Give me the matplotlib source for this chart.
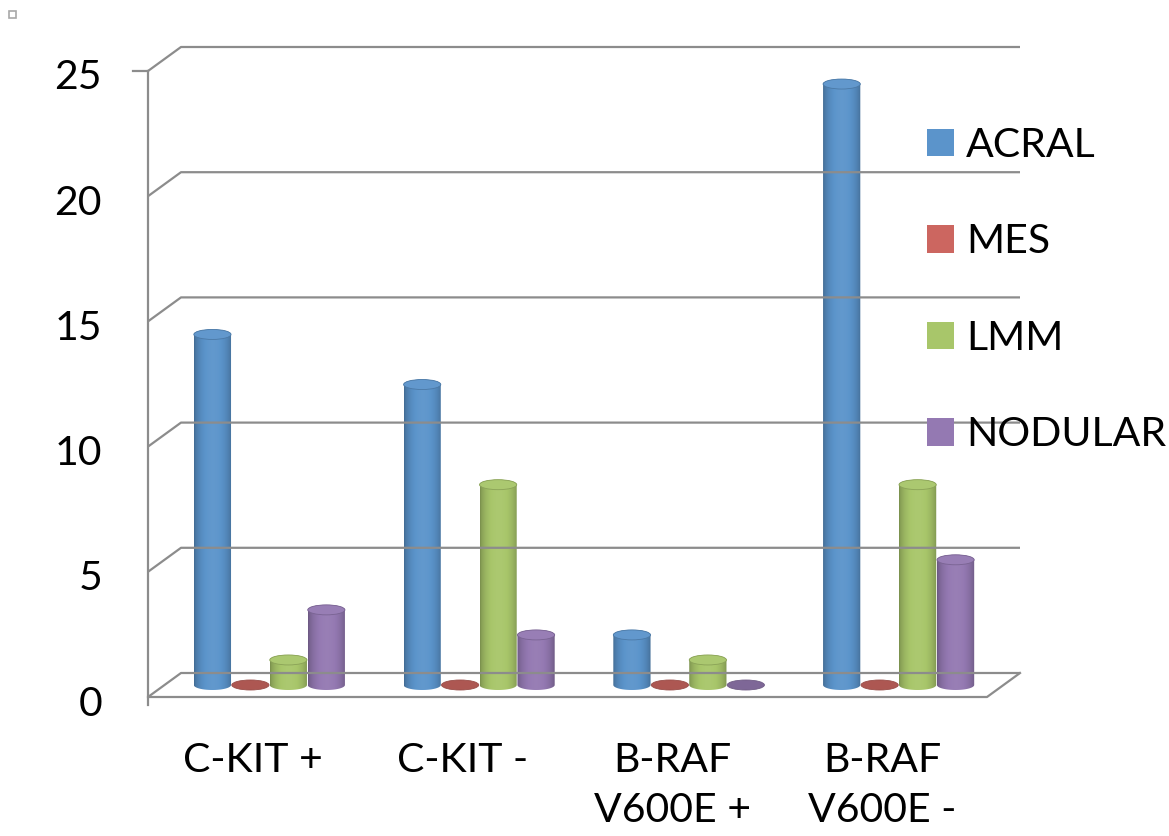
import numpy as np
import matplotlib.pyplot as plt
from matplotlib.colors import to_rgb
from matplotlib.patches import Ellipse, Patch, Polygon, Rectangle

categories = ['C-KIT +', 'C-KIT -', 'B-RAF\nV600E +', 'B-RAF\nV600E -']
series = ['ACRAL', 'MES', 'LMM', 'NODULAR']
acral = [14, 12, 2, 24]
mes = [0, 0, 0, 0]
lmm = [1, 8, 1, 8]
nodular = [3, 2, 0, 5]
y_ticks = [0, 5, 10, 15, 20, 25]
colors = ['#5b94cb', '#cc6660', '#a8c66a', '#9479b2']

plt.rcParams['font.family'] = ['Lato', 'DejaVu Sans']
FS = 29.5

W, H = 1169, 836
fig = plt.figure(figsize=(W / 100, H / 100), dpi=100)
ax = fig.add_axes([0, 0, 1, 1])
ax.axis('off')

# back wall spans px 181..1020 horizontally, value 0..25 at px 673..47
ux = (1020 - 181) / 4
uy = (673 - 47) / 25
ax.set_xlim(-0.5 - 181 / ux, -0.5 + (W - 181) / ux)
ax.set_ylim(0 - (H - 673) / uy, 25 + 47 / uy)

# oblique depth: the front plane sits 33 px left and 24 px below the back wall
DX, DY = -33 / ux, -24 / uy
grid_c = '#8c8c8c'
x0, x1 = -0.5, 3.5

# back wall gridlines with their diagonal run to the front axis
for v in y_ticks:
    ax.plot([x0 + DX, x0, x1], [v + DY, v, v], color=grid_c, lw=1.6,
            solid_capstyle='butt')
    ax.text(x0 + DX - 46 / ux, v + DY - 7 / uy, str(v), ha='right', va='center',
            fontsize=FS)

# floor outline and front value axis
ax.plot([x0 + DX, x1 + DX, x1], [DY, DY, 0], color=grid_c, lw=1.6)
ax.plot([x0 + DX, x0 + DX], [25 + DY, DY - 8 / uy], color=grid_c, lw=1.6)
ax.plot([x0 + DX - 15 / ux, x0 + DX], [25 + DY, 25 + DY], color=grid_c, lw=1.6)


def shade(rgb, f):
    rgb = np.asarray(rgb)
    if f <= 1:
        return rgb * f
    return rgb + (1 - rgb) * (f - 1)


def cylinder(xc, h, w, color):
    base = to_rgb(color)
    eh = 10 / uy
    yb = DY / 2
    cx = xc + DX / 2
    if h <= 0:
        ax.add_patch(Ellipse((cx, yb), w, eh, fc=shade(base, 0.85),
                             ec=shade(base, 0.75), lw=0.6))
        return
    t = np.linspace(np.pi, 2 * np.pi, 40)
    bottom = np.column_stack([cx + w / 2 * np.cos(t), yb + eh / 2 * np.sin(t)])
    t = np.linspace(0, np.pi, 40)
    top = np.column_stack([cx + w / 2 * np.cos(t), yb + h + eh / 2 * np.sin(t)])
    outline = Polygon(np.vstack([bottom, top]), closed=True, fc='none',
                      ec='none', transform=ax.transData)
    ax.add_patch(outline)
    u = np.linspace(0, 1, 64)
    prof = 0.72 + 0.32 * np.sin(np.pi * u) ** 0.6
    grad = np.array([[shade(base, f) for f in prof]])
    im = ax.imshow(grad, extent=(cx - w / 2, cx + w / 2, yb - eh / 2, yb + h + eh / 2),
                   aspect='auto', interpolation='bilinear', origin='lower')
    im.set_clip_path(outline)
    ax.add_patch(Ellipse((cx, yb + h), w, eh, fc=shade(base, 1.04),
                         ec=shade(base, 0.82), lw=0.6))


bw = 0.181
values = [acral, mes, lmm, nodular]
for i in range(len(categories)):
    for j, vals in enumerate(values):
        cylinder(i + (j - 1.5) * bw, vals[i], bw * 0.98, colors[j])

for i, cat in enumerate(categories):
    ax.text(i + DX, DY - 45 / uy, cat, ha='center', va='top',
            fontsize=FS, linespacing=1.45)

handles = [Patch(fc=c, ec='none') for c in colors]
fig.legend(handles, series, loc='upper left', bbox_to_anchor=(927 / W, 1 - 127 / H),
           frameon=False, fontsize=FS, handlelength=0.66, handleheight=0.66,
           handletextpad=0.3, labelspacing=1.45, borderpad=0, borderaxespad=0)

# small selection handle in the corner
fig.add_artist(Rectangle((9 / W, 1 - 18 / H), 7 / W, 7 / H, fill=False,
                         ec='#a8a8a8', lw=1.2, transform=fig.transFigure))

ax.set_xlim(-0.5 - 181 / ux, -0.5 + (W - 181) / ux)
ax.set_ylim(0 - (H - 673) / uy, 25 + 47 / uy)
fig.savefig('out.png', dpi=100)
